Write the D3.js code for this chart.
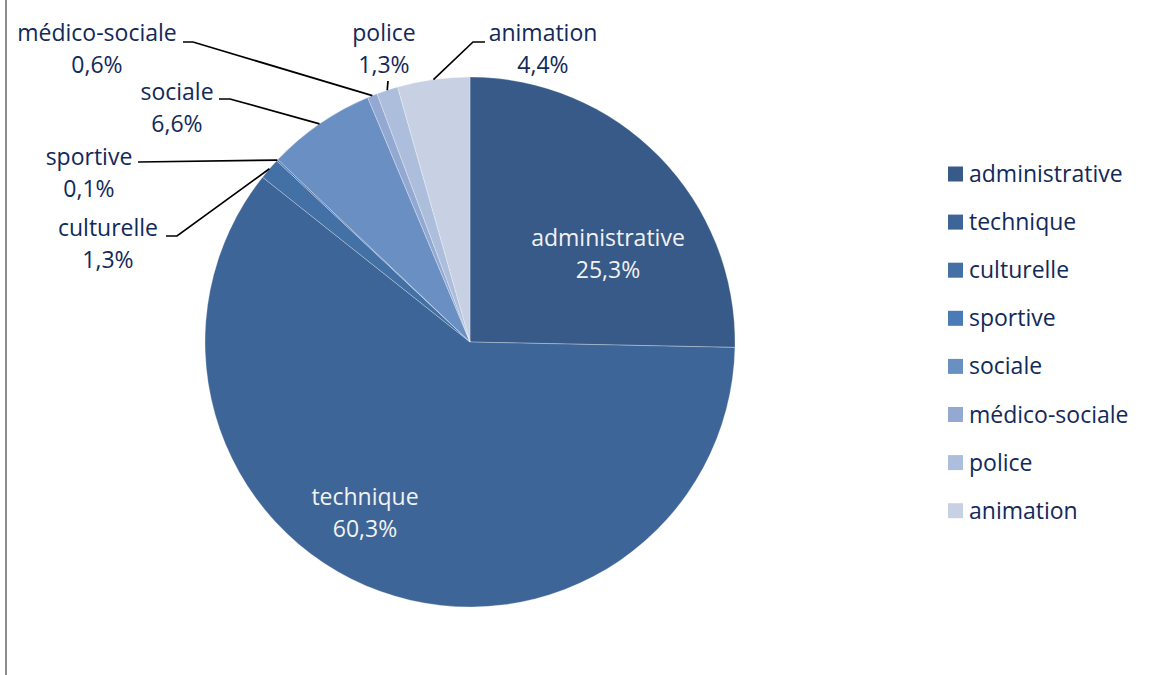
<!DOCTYPE html>
<html>
<head>
<meta charset="utf-8">
<script src="https://cdn.jsdelivr.net/npm/d3@7"></script>
<style>
  html, body { margin: 0; padding: 0; background: #fff; }
  svg { display: block; }
  text { font-family: "Open Sans", "Noto Sans", sans-serif; }
</style>
</head>
<body>
<svg id="chart" width="1150" height="675"></svg>
<script>
// Répartition des effectifs par filière (%)
const categories = ["administrative", "technique", "culturelle", "sportive", "sociale", "médico-sociale", "police", "animation"];
const shares = [25.3, 60.3, 1.3, 0.1, 6.6, 0.6, 1.3, 4.4];
const palette = ["#375a88", "#3e6597", "#4370a5", "#4a7bb7", "#6a8fc3", "#93a9d1", "#adbedc", "#c8d1e4"];

const W = 1150, H = 675;
const cx = 470, cy = 342, R = 265;
const textColor = "#12295a";
const fontSize = 23;

// Label placement: inside labels use a centre point, outside labels
// use an anchor point plus an optional elbow before the leader reaches the slice.
const labelLayout = {
  "administrative": { inside: true, x: 608, y: 238 },
  "technique":      { inside: true, x: 365, y: 497 },
  "culturelle":     { x: 108, y: 228, start: [166, 236], elbow: [177, 236] },
  "sportive":       { x: 89,  y: 157, start: [138, 162] },
  "sociale":        { x: 177, y: 92,  start: [219, 99], elbow: [230, 99] },
  "médico-sociale": { x: 97,  y: 33,  start: [183, 42], elbow: [193, 42] },
  "police":         { x: 384, y: 33,  start: [388, 81] },
  "animation":      { x: 543, y: 33,  start: [485, 42], elbow: [473, 42] }
};

const fmt = v => d3.format(".1f")(v).replace(".", ",") + "%";

const svg = d3.select("#chart");

// frame edge on the left
svg.append("line")
  .attr("x1", 6).attr("x2", 6).attr("y1", 0).attr("y2", H)
  .attr("stroke", "#8c8c8c").attr("stroke-width", 2);

const color = d3.scaleOrdinal().domain(categories).range(palette);

const data = categories.map((c, i) => ({ name: c, value: shares[i] }));
const pie = d3.pie().value(d => d.value).sort(null);
const arcs = pie(data);
const arc = d3.arc().innerRadius(0).outerRadius(R);

const g = svg.append("g").attr("transform", `translate(${cx},${cy})`);

g.selectAll("path.slice")
  .data(arcs)
  .join("path")
  .attr("class", "slice")
  .attr("d", arc)
  .attr("fill", d => color(d.data.name))
  .attr("stroke", "rgba(255,255,255,0.35)")
  .attr("stroke-width", 0.8);

// leader lines for the small slices
arcs.forEach(a => {
  const L = labelLayout[a.data.name];
  if (L.inside) return;
  const mid = (a.startAngle + a.endAngle) / 2;
  const px = cx + R * Math.sin(mid);
  const py = cy - R * Math.cos(mid);
  const pts = [L.start];
  if (L.elbow) pts.push(L.elbow);
  pts.push([px, py]);
  svg.append("path")
    .attr("d", d3.line()(pts))
    .attr("fill", "none")
    .attr("stroke", "#000")
    .attr("stroke-width", 1.7);
});

// slice labels
arcs.forEach(a => {
  const L = labelLayout[a.data.name];
  const t = svg.append("text")
    .attr("text-anchor", "middle")
    .attr("font-size", fontSize)
    .attr("fill", L.inside ? "#f2f2f2" : textColor);
  t.append("tspan").attr("x", L.x).attr("y", L.y).attr("dy", "0.35em").text(a.data.name);
  t.append("tspan").attr("x", L.x).attr("y", L.y + 32).attr("dy", "0.35em").text(fmt(a.data.value));
});

// legend
const legend = svg.append("g").attr("transform", "translate(948,174)");
const item = legend.selectAll("g")
  .data(categories)
  .join("g")
  .attr("transform", (d, i) => `translate(0,${i * 48.1})`);
item.append("rect")
  .attr("x", 0).attr("y", -7.5).attr("width", 15).attr("height", 15)
  .attr("fill", d => color(d));
item.append("text")
  .attr("x", 21).attr("y", 0).attr("dy", "0.35em")
  .attr("font-size", fontSize)
  .attr("fill", textColor)
  .text(d => d);
</script>
</body>
</html>
